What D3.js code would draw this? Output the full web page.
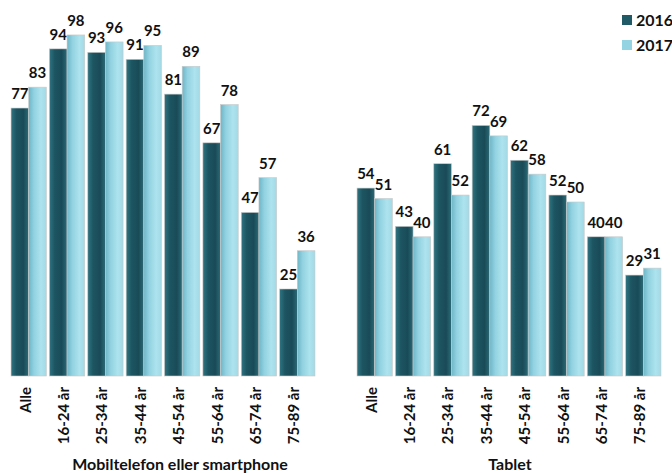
<!DOCTYPE html>
<html><head><meta charset="utf-8">
<script src="https://cdn.jsdelivr.net/npm/d3@7"></script>
<style>body{margin:0;background:#fff}svg{display:block}</style>
</head><body>
<script>
const categories = ["Alle","16-24 år","25-34 år","35-44 år","45-54 år","55-64 år","65-74 år","75-89 år"];
const series = ["2016","2017"];
const mobil2016 = [77,94,93,91,81,67,47,25];
const mobil2017 = [83,98,96,95,89,78,57,36];
const tablet2016 = [54,43,61,72,62,52,40,29];
const tablet2017 = [51,40,52,69,58,50,40,31];
const panelTitles = ["Mobiltelefon eller smartphone","Tablet"];

const W=672,H=473;
const svg=d3.select("body").append("svg").attr("width",W).attr("height",H);
const font="Lato, 'Open Sans', sans-serif";

const defs=svg.append("defs");
const g1=defs.append("linearGradient").attr("id","g2016").attr("x1","0").attr("x2","1").attr("y1","0").attr("y2","0");
[["0%","#2f7481"],["30%","#1d5562"],["70%","#194b57"],["100%","#2b6b78"]].forEach(s=>g1.append("stop").attr("offset",s[0]).attr("stop-color",s[1]));
const g2=defs.append("linearGradient").attr("id","g2017").attr("x1","0").attr("x2","1").attr("y1","0").attr("y2","0");
[["0%","#6db6c7"],["30%","#92d2e1"],["70%","#ade3ee"],["100%","#a2d9e5"]].forEach(s=>g2.append("stop").attr("offset",s[0]).attr("stop-color",s[1]));
const fills={"2016":"url(#g2016)","2017":"url(#g2017)"};
const legendColors={"2016":"#1f5a66","2017":"#93d3e2"};

const y=d3.scaleLinear().domain([0,100]).range([376,28]);

const panels=[
  {range:[9.5,316.5],data:[mobil2016,mobil2017],title:panelTitles[0],titleX:180},
  {range:[355.5,662.5],data:[tablet2016,tablet2017],title:panelTitles[1],titleX:510}
];

panels.forEach(p=>{
  const x0=d3.scaleBand().domain(categories).range(p.range).paddingInner(0.08).paddingOuter(0.04);
  const x1=d3.scaleBand().domain(series).range([0,x0.bandwidth()]);
  const g=svg.append("g");
  categories.forEach((c,i)=>{
    series.forEach((s,j)=>{
      const v=p.data[j][i];
      const bx=x0(c)+x1(s);
      g.append("rect").attr("x",bx).attr("y",y(v)).attr("width",x1.bandwidth()).attr("height",y(0)-y(v))
        .attr("fill",fills[s]).attr("stroke","#c8c8c8").attr("stroke-width",0.6);
      g.append("text").attr("x",bx+x1.bandwidth()/2).attr("y",y(v)-9)
        .attr("text-anchor","middle").attr("font-family",font).attr("font-weight","bold")
        .attr("font-size",15).attr("fill","#111").text(v);
    });
    const cx=x0(c)+x0.bandwidth()/2;
    g.append("text").attr("transform",`translate(${cx+2},387) rotate(-90)`)
      .attr("text-anchor","end").attr("font-family",font).attr("font-weight","bold")
      .attr("font-size",15).attr("fill","#111").text(c);
  });
  g.append("text").attr("x",p.titleX).attr("y",470).attr("text-anchor","middle")
    .attr("font-family",font).attr("font-weight","bold").attr("font-size",16).attr("fill","#111").text(p.title);
});

const leg=svg.append("g");
series.forEach((s,i)=>{
  leg.append("rect").attr("x",622).attr("y",15+i*25).attr("width",10).attr("height",10).attr("fill",legendColors[s]);
  leg.append("text").attr("x",636).attr("y",26+i*25).attr("font-family",font).attr("font-weight","bold")
    .attr("font-size",16).attr("fill","#111").text(s);
});
</script>
</body></html>
